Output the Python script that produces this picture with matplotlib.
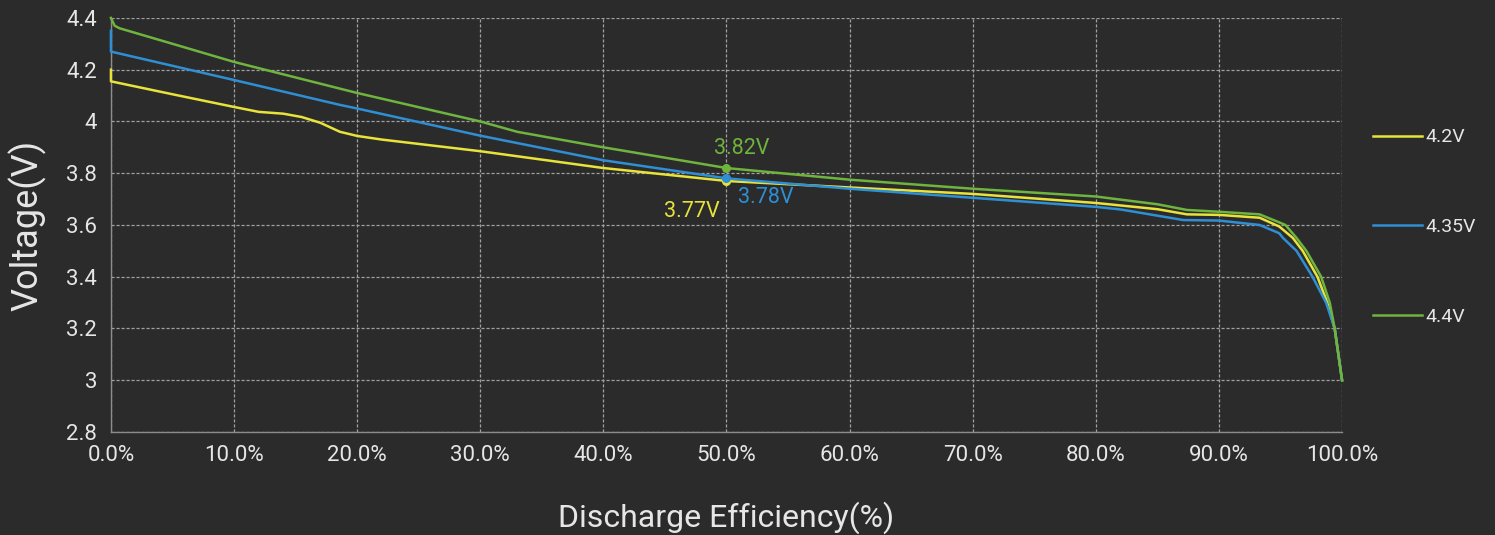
import matplotlib

matplotlib.use("Agg")
import matplotlib.pyplot as plt
from matplotlib.ticker import FuncFormatter, MultipleLocator

BG = "#2b2b2b"
TEXT = "#e6e6e6"
GRID = "#a0a0a0"

# discharge efficiency (%) and voltage (V)
X_42 = [0, 0, 5, 10, 12, 14, 15.5, 17, 18.6, 20, 22, 30, 40, 50, 60, 70, 80, 85, 87.4, 90, 93.3, 94.9, 96.0, 96.8, 98.0, 98.8, 99.4, 100]
Y_42 = [4.20, 4.155, 4.105, 4.056, 4.037, 4.030, 4.017, 3.995, 3.960, 3.944, 3.930, 3.885, 3.820, 3.770, 3.745, 3.720, 3.685, 3.661, 3.641, 3.639, 3.628, 3.594, 3.550, 3.500, 3.400, 3.300, 3.200, 3.00]

X_435 = [0, 0, 5, 10, 18.6, 20, 30, 40, 50, 60, 70, 80, 82, 85, 87.1, 90, 93.3, 94.9, 95.2, 96.3, 97.6, 98.7, 99.4, 100]
Y_435 = [4.35, 4.27, 4.215, 4.160, 4.064, 4.050, 3.945, 3.850, 3.780, 3.740, 3.705, 3.670, 3.660, 3.636, 3.619, 3.617, 3.600, 3.568, 3.550, 3.500, 3.400, 3.300, 3.200, 3.00]

X_44 = [0, 0.3, 0.7, 5, 10, 20, 30, 33, 40, 50, 60, 70, 80, 85, 87.4, 90, 93.3, 94.9, 95.4, 96.3, 97.1, 98.3, 99.0, 99.4, 100]
Y_44 = [4.40, 4.37, 4.36, 4.30, 4.230, 4.110, 4.000, 3.960, 3.900, 3.820, 3.775, 3.740, 3.710, 3.680, 3.658, 3.651, 3.641, 3.610, 3.600, 3.550, 3.500, 3.400, 3.300, 3.200, 3.00]

SERIES = [
    ("4.2V", X_42, Y_42, "#e8e33a"),
    ("4.35V", X_435, Y_435, "#2f8fd5"),
    ("4.4V", X_44, Y_44, "#6eb43f"),
]

MARK_X = 50
MARKS = {"4.2V": 3.77, "4.35V": 3.78, "4.4V": 3.82}
MARK_TEXT = {"4.2V": "3.77V", "4.35V": "3.78V", "4.4V": "3.82V"}
MARK_OFFSET = {"4.2V": (-25, -22), "4.35V": (28, -14), "4.4V": (11, 14)}


def main() -> None:
    plt.rcParams.update(
        {
            "font.family": ["Roboto", "DejaVu Sans"],
            "font.size": 16,
        }
    )
    fig = plt.figure(figsize=(14.95, 5.35), dpi=100, facecolor=BG)
    ax = fig.add_axes([0.0742, 0.1925, 0.8235, 0.774])
    ax.set_facecolor(BG)

    for label, xs, ys, color in SERIES:
        ax.plot(xs, ys, color=color, lw=1.8, label=label, zorder=3, clip_on=False)

    colors = {label: color for label, _, _, color in SERIES}
    for label, v in MARKS.items():
        ax.plot(MARK_X, v, "o", ms=5.5, color=colors[label], zorder=4)
        ax.annotate(MARK_TEXT[label], (MARK_X, v), xytext=MARK_OFFSET[label], textcoords="offset points",
                    ha="center", va="center", color=colors[label], fontsize=15.5)

    ax.set_xlim(0, 100)
    ax.set_ylim(2.8, 4.4)
    ax.xaxis.set_major_locator(MultipleLocator(10))
    ax.yaxis.set_major_locator(MultipleLocator(0.2))
    ax.xaxis.set_major_formatter(FuncFormatter(lambda v, _: f"{v:.1f}%"))
    ax.yaxis.set_major_formatter(FuncFormatter(lambda v, _: f"{v:.1f}".rstrip("0").rstrip(".")))
    ax.grid(True, color=GRID, ls=(0, (2.5, 1.5)), lw=0.9, zorder=1)
    for side in ("top", "right"):
        ax.spines[side].set_visible(False)
    for side in ("left", "bottom"):
        ax.spines[side].set_color("#8c8c8c")
        ax.spines[side].set_linewidth(1.0)
    ax.tick_params(colors=TEXT, length=0, labelsize=16)
    ax.tick_params(axis="x", pad=9)
    ax.tick_params(axis="y", pad=10)

    ax.set_xlabel("Discharge Efficiency(%)", color=TEXT, fontsize=23, va="center")
    ax.xaxis.set_label_coords(0.5, -0.208)
    ax.set_ylabel("Voltage(V)", color=TEXT, fontsize=26, va="center")
    ax.yaxis.set_label_coords(-0.068, 0.5)

    leg = ax.legend(loc="center left", bbox_to_anchor=(1.0252, 0.495), frameon=False,
                    borderpad=0, borderaxespad=0, handlelength=2.5, handletextpad=0.2,
                    labelspacing=3.68, fontsize=14)
    for text in leg.get_texts():
        text.set_color(TEXT)

    fig.savefig("out.png", dpi=100, facecolor=BG)
    plt.close(fig)


if __name__ == "__main__":
    main()
